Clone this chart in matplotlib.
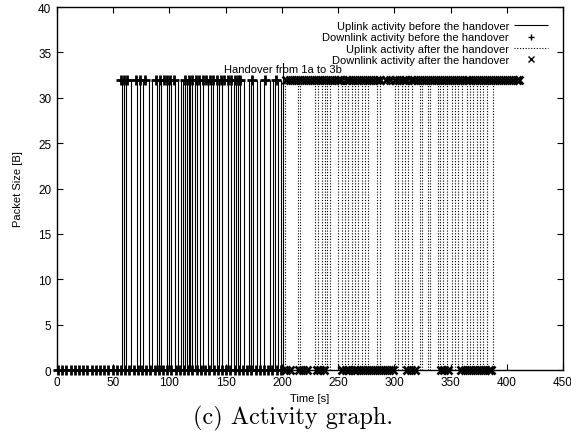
import matplotlib
matplotlib.use("Agg")
import matplotlib.pyplot as plt

# ---------------------------------------------------------------
# Data (times in seconds)
# ---------------------------------------------------------------
pkt_size = 32
handover_t = 201

# uplink packets before the handover (impulses, 32 B)
up_before = [57.8, 59.6, 61.4, 65.8, 71.2, 73.8, 76.5, 81.9, 84.5, 89.0,
             90.7, 92.5, 97.9, 99.6, 101.4, 105.0, 107.7, 110.3, 112.1,
             113.9, 115.7, 117.4, 118.3, 120.1, 122.8, 124.6, 127.2, 129.9,
             134.3, 137.0, 138.8, 142.3, 144.1, 146.8, 152.1, 154.8, 157.5,
             159.3, 161.0, 162.8, 166.4, 170.8, 172.6, 174.4, 177.9, 180.6,
             184.2, 189.5, 192.2, 194.0, 196.6, 199.3]

# uplink packets after the handover (dotted impulses, 32 B)
up_after = [202.8, 214.4, 216.2, 229.5, 232.2, 235.8, 238.4, 240.2, 242.9,
            250.0, 253.6, 256.2, 258.9, 262.5, 265.1, 267.8, 271.4, 274.0,
            276.7, 284.7, 287.4, 300.7, 303.4, 306.9, 309.6, 312.3, 315.8,
            322.9, 324.7, 330.1, 331.9, 339.0, 340.7, 343.4, 347.0, 351.4,
            354.1, 356.8, 360.3, 364.8, 367.4, 370.1, 373.7, 376.3, 379.0,
            382.6, 387.9]

# downlink before the handover: packets of 32 B and of 0 B
down_before_32 = [56.5, 59.3, 62.0, 70.6, 74.1, 78.0, 88.4, 91.6, 94.8, 97.9,
                  100.9, 103.8, 114.0, 117.2, 120.1, 123.5, 126.4, 129.8,
                  132.7, 135.9, 139.1, 142.4, 145.6, 148.5, 151.9, 155.0,
                  158.2, 160.6, 162.5, 173.0, 185.0, 194.5]
down_before_0 = [0.8, 4.6, 8.3, 12.1, 15.7, 19.6, 23.2, 27.0, 30.8, 34.4,
                 38.3, 41.9, 45.7, 49.5, 53.1, 57.0, 60.6, 64.4, 68.2, 71.8,
                 75.7, 79.3, 83.1, 86.9, 90.5, 94.4, 98.0, 101.8, 105.6,
                 109.2, 113.1, 116.7, 120.5, 124.3, 127.9, 131.8, 135.4,
                 139.2, 143.0, 146.6, 150.5, 154.1, 157.9, 161.7, 165.3,
                 169.2, 172.8, 176.6, 180.4, 184.0, 187.9, 191.5, 195.3, 198.9]

# downlink after the handover: packets of 32 B and of 0 B
down_after_32 = [204.0, 207.5, 211.0, 214.4, 218.1, 221.6, 225.0, 228.7,
                 232.1, 235.6, 239.0, 242.6, 246.1, 249.5, 253.0, 256.6,
                 260.1, 263.5, 267.0, 270.6, 274.1, 277.5, 281.0, 284.6,
                 287.2, 292.5, 296.0, 300.4, 303.9, 307.3, 310.8, 314.4,
                 317.9, 321.3, 324.8, 328.4, 331.9, 335.3, 338.8, 342.4,
                 345.9, 349.3, 352.8, 356.4, 359.9, 363.3, 366.8, 370.4,
                 373.9, 377.3, 380.8, 384.4, 387.9, 391.3, 394.8, 398.4,
                 401.9, 405.3, 408.8, 411.0]
down_after_0 = [203.5, 207.0, 215.2, 218.9, 222.4, 231.0, 234.3, 237.1,
                253.2, 256.8, 260.1, 263.7, 267.2, 270.6, 274.1, 277.7,
                281.2, 284.6, 288.1, 291.7, 295.2, 298.6, 311.3, 314.8,
                318.4, 341.2, 344.6, 347.3, 359.4, 362.9, 366.3, 369.8,
                373.4, 376.9, 380.3, 383.8, 386.2]

xticks = list(range(0, 451, 50))
yticks = list(range(0, 41, 5))

# ---------------------------------------------------------------
# Plot
# ---------------------------------------------------------------
plt.rcParams["font.family"] = ["Liberation Sans", "DejaVu Sans"]

fig = plt.figure(figsize=(5.71, 4.35), dpi=100)
ax = fig.add_axes([0.0998, 0.147, 0.8862, 0.8346])

ax.vlines(up_before, 0, pkt_size, colors="k", linewidth=0.8,
          label="Uplink activity before the handover")
ax.plot(down_before_32 + down_before_0,
        [pkt_size] * len(down_before_32) + [0] * len(down_before_0),
        linestyle="none", marker="+", color="k", markersize=6.5,
        markeredgewidth=2.0, clip_on=False,
        label="Downlink activity before the handover")
ax.vlines(up_after, 0, pkt_size, colors="k", linewidth=0.8,
          linestyles=(0, (1, 1.5)),
          label="Uplink activity after the handover")
ax.plot(down_after_32 + down_after_0,
        [pkt_size] * len(down_after_32) + [0] * len(down_after_0),
        linestyle="none", marker="x", color="k", markersize=5.5,
        markeredgewidth=1.9, clip_on=False,
        label="Downlink activity after the handover")

# handover marker
ax.plot([handover_t, handover_t], [33.8, 0], color="k", linewidth=0.8)
ax.text(handover_t - 0.5, 33.2, "Handover from 1a to 3b", ha="center",
        va="center", fontsize=8)

ax.set_xlim(0, 450)
ax.set_ylim(0, 40)
ax.set_xticks(xticks)
ax.set_yticks(yticks)
ax.tick_params(direction="in", length=4, width=0.8, top=True, right=True,
               labelsize=8.5, pad=4)
for s in ax.spines.values():
    s.set_linewidth(1.0)

ax.set_xlabel("Time [s]", fontsize=8, labelpad=4)
ax.set_ylabel("Packet Size [B]", fontsize=8, labelpad=11)

leg = ax.legend(loc="upper right", bbox_to_anchor=(0.970, 0.961),
                markerfirst=False, frameon=False, fontsize=8,
                handlelength=3.0, handletextpad=0.5, labelspacing=0.12,
                borderaxespad=0.0, borderpad=0.0)
for h in leg.legend_handles:
    if hasattr(h, "set_markeredgewidth"):
        h.set_markeredgewidth(1.0)
        h.set_markersize(4.5)

fig.text(0.513, 0.039, "(c) Activity graph.", ha="center", va="center",
         fontsize=17.5, family="cmr10")

fig.savefig("out.png", dpi=100)
